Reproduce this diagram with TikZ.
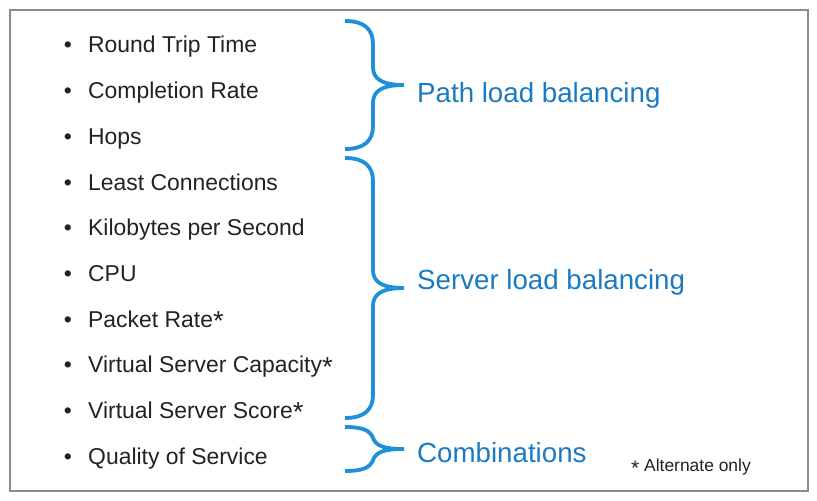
\documentclass[tikz,border=0pt]{standalone}
\usepackage{fontspec}
\setmainfont{Liberation Sans}
\definecolor{bracecol}{HTML}{1E8FD8}
\definecolor{labelcol}{HTML}{1A7AC2}
\definecolor{itemcol}{HTML}{222222}
\definecolor{framecol}{HTML}{8C8C8C}
\newcommand{\bigast}{\raisebox{-0.15em}{\scalebox{1.2}{*}}}
\newcommand{\lowast}{\raisebox{-0.25em}{\scalebox{1.2}{*}}}
\begin{document}
\begin{tikzpicture}[x=1bp,y=-1bp,
  item/.style={anchor=base west,inner sep=0pt,text=itemcol,font=\fontsize{23}{26}\selectfont},
  bul/.style={anchor=base,inner sep=0pt,text=itemcol,font=\fontsize{23}{26}\selectfont},
  grouplabel/.style={anchor=base west,inner sep=0pt,text=labelcol,font=\fontsize{27.8}{32}\selectfont},
  bracestyle/.style={draw=bracecol,line width=3.8bp,line cap=butt}]
\useasboundingbox (0,0) rectangle (817,501);
\draw[framecol,line width=2bp] (10,10) rectangle (808,491);
\foreach \t [count=\i from 0] in {Round Trip Time,Completion Rate,Hops,Least Connections,Kilobytes per Second,CPU,Packet Rate\bigast,Virtual Server Capacity\bigast,Virtual Server Score\bigast,Quality of Service}{
  \node[bul] (b\i) at (68,{53+45.67*\i}) {•};
  \node[item] (t\i) at (88,{53+45.67*\i}) {\t};
}
% braces
\coordinate (p1a) at (345,21);
\coordinate (p1t) at (404,85);
\coordinate (p1b) at (345,149);
\draw[bracestyle] (p1a) .. controls (364,21) and (373,29) .. (373,44) -- (373,67)
  .. controls (373,79) and (382,85) .. (p1t)
  .. controls (382,85) and (373,91) .. (373,103) -- (373,126)
  .. controls (373,141) and (364,149) .. (p1b);
\coordinate (p2a) at (345,158);
\coordinate (p2t) at (404,288);
\coordinate (p2b) at (345,418);
\draw[bracestyle] (p2a) .. controls (364,158) and (373,166) .. (373,181) -- (373,270)
  .. controls (373,282) and (382,288) .. (p2t)
  .. controls (382,288) and (373,294) .. (373,306) -- (373,395)
  .. controls (373,410) and (364,418) .. (p2b);
\coordinate (p3a) at (345,427);
\coordinate (p3t) at (404,449);
\coordinate (p3b) at (345,471);
\draw[bracestyle] (p3a) .. controls (362,427) and (370,430) .. (373,438)
  .. controls (376,446) and (384,449) .. (p3t)
  .. controls (384,449) and (376,452) .. (373,460)
  .. controls (370,468) and (362,471) .. (p3b);
\node[grouplabel] (l1) at (417,103) {Path load balancing};
\node[grouplabel] (l2) at (417,290) {Server load balancing};
\node[grouplabel] (l3) at (417,462) {Combinations};
\node[anchor=base west,inner sep=0pt,text=itemcol,font=\fontsize{17.5}{20}\selectfont] (note) at (631,471) {\lowast\ Alternate only};
\end{tikzpicture}
\end{document}
